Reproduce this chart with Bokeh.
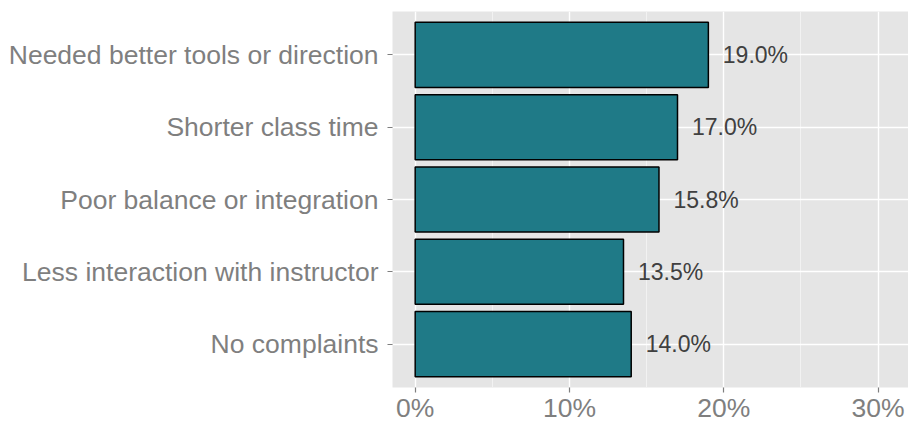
from bokeh.plotting import figure
from bokeh.models import (FactorRange, Range1d, FixedTicker, PrintfTickFormatter,
                          ColumnDataSource)
from bokeh.core.properties import value
from bokeh.embed import file_html
from bokeh.resources import INLINE

categories = ["Needed better tools or direction", "Shorter class time",
              "Poor balance or integration", "Less interaction with instructor",
              "No complaints"]
percent = [19.0, 17.0, 15.8, 13.5, 14.0]
labels = ["19.0%", "17.0%", "15.8%", "13.5%", "14.0%"]
x_ticks = [0, 10, 20, 30]
x_minor = [5, 15, 25]

FONT = "Liberation Sans"
src = ColumnDataSource(dict(cat=categories, pct=percent, lab=labels,
                            lx=[v + 3.05 for v in percent]))

p = figure(frame_width=516, frame_height=376, output_backend="svg", toolbar_location=None,
           y_range=FactorRange(factors=list(reversed(categories)),
                               range_padding=0.1, range_padding_units="absolute"),
           x_range=Range1d(-1.47, 31.97),
           min_border_left=392, min_border_top=11, min_border_right=0,
           min_border_bottom=30)
p.outline_line_color = None
p.background_fill_color = "#E5E5E5"
p.border_fill_color = "white"

p.hbar(y="cat", right="pct", left=0, height=0.9, source=src,
       fill_color="#1F7A87", line_color="black", line_width=1.5)
p.text(x="lx", y="cat", text="lab", source=src, text_align="center",
       text_baseline="middle", text_font=value(FONT), text_font_size="23px",
       text_color="#404040")

p.xaxis.ticker = FixedTicker(ticks=x_ticks, minor_ticks=x_minor)
p.xaxis.formatter = PrintfTickFormatter(format="%d%%")
for ax in (p.xaxis[0], p.yaxis[0]):
    ax.axis_line_color = None
    ax.major_tick_in = 0
    ax.major_tick_out = 5
    ax.minor_tick_out = 0
    ax.minor_tick_in = 0
    ax.major_tick_line_color = "#7F7F7F"
    ax.major_tick_line_width = 1.2
    ax.major_label_text_color = "#7F7F7F"
    ax.major_label_text_font = FONT
    ax.major_label_text_font_size = "26.5px"
p.xaxis.major_label_standoff = 0
p.xaxis.major_label_text_line_height = 0.9
p.yaxis.major_label_standoff = 9

p.xgrid.grid_line_color = "white"
p.xgrid.grid_line_width = 1.4
p.xgrid.minor_grid_line_color = "#F2F2F2"
p.xgrid.minor_grid_line_width = 1
p.ygrid.grid_line_color = "white"
p.ygrid.grid_line_width = 1.4

open("out.html", "w").write(file_html(p, INLINE))
